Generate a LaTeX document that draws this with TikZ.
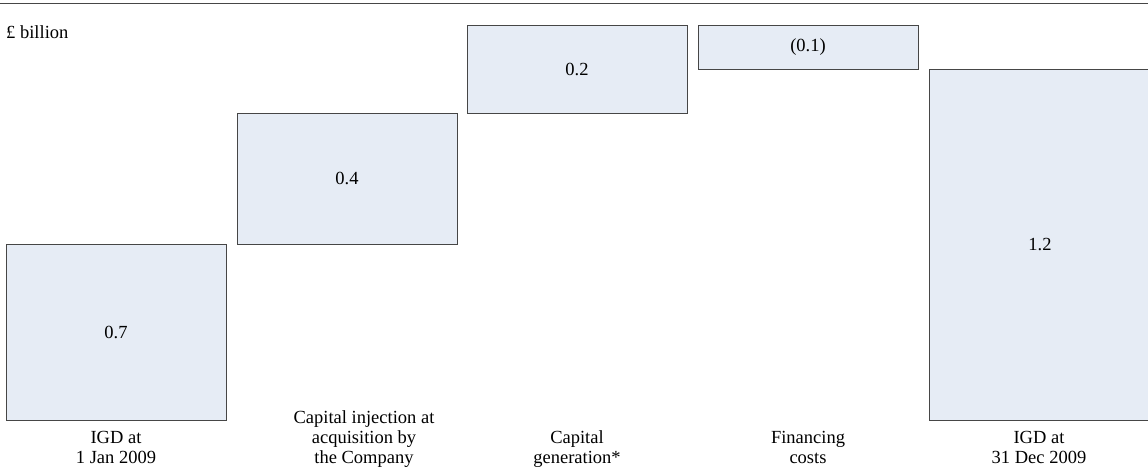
\documentclass[tikz,border=0pt]{standalone}
\usepackage{fontspec}
\setmainfont{Liberation Serif}
\usetikzlibrary{positioning, calc}
\definecolor{barfill}{RGB}{230,236,245}
\definecolor{barline}{RGB}{70,70,70}

\begin{document}
\begin{tikzpicture}[
        x=1pt, y=-1pt,
        bar/.style={draw=barline, line width=0.9pt, fill=barfill, inner sep=0pt, outer sep=0pt, anchor=north west},
        lab/.style={align=center, anchor=south, inner sep=0pt, execute at end node=\strut},
        rule/.style={-, draw=barline, line width=0.9pt},
        every node/.style={font=\fontsize{18.5}{20}\selectfont}
    ]
    \useasboundingbox (0,0) rectangle (1148,473);

    % Top rule and unit
    \coordinate (ruleL) at (0,3);
    \coordinate (ruleR) at (1148,3);
    \draw[rule] (ruleL) -- (ruleR);
    \node[anchor=base west, inner sep=0pt] (unit) at (6,39) {£ billion};

    % Bars
    \node[bar, minimum width=220pt, minimum height=176pt] (igdstart) at (6,244) {0.7};
    \node[bar, minimum width=220pt, minimum height=131pt] (inject) at (237,113) {0.4};
    \node[bar, minimum width=220pt, minimum height=88pt] (capgen) at (467,25) {0.2};
    \node[bar, minimum width=220pt, minimum height=44pt] (fincost) at (698,25) {(0.1)};
    \node[bar, minimum width=222pt, minimum height=351pt] (igdend) at (929,69) {1.2};

    % Category labels
    \coordinate (base) at (0,470);
    \node[lab] (igdstart_lab) at (igdstart.center |- base) {IGD at\\1 Jan 2009};
    \node[lab] (inject_lab) at ($(inject.center |- base)+(17,0)$) {Capital injection at\\acquisition by\\the Company};
    \node[lab] (capgen_lab) at (capgen.center |- base) {Capital\\generation*};
    \node[lab] (fincost_lab) at (fincost.center |- base) {Financing\\costs};
    \node[lab] (igdend_lab) at ($(igdend.center |- base)+(-1,0)$) {IGD at\\31 Dec 2009};

\end{tikzpicture}
\end{document}
